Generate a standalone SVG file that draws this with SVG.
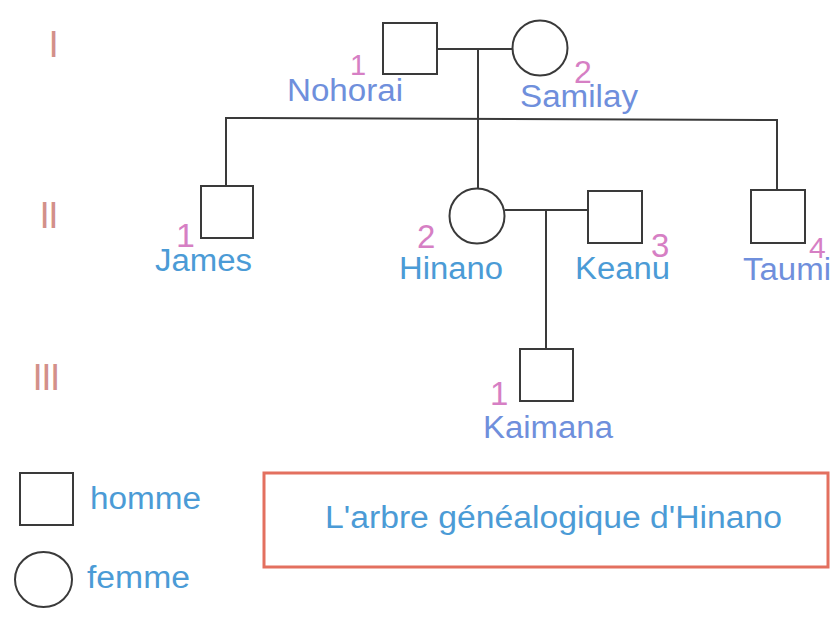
<svg xmlns="http://www.w3.org/2000/svg" width="831" height="618" viewBox="0 0 831 618">
<style>
.sym{fill:#fff;stroke:#3a3a3a;stroke-width:2}
.ln{fill:none;stroke:#3a3a3a;stroke-width:2}
.lbl{font-family:"Liberation Sans",Arial,sans-serif;font-size:31px}
.b1{fill:#4b9bd6}
.b2{fill:#6f8fdc}
.num{font-family:"Liberation Sans",Arial,sans-serif;fill:#d67fc4}
.rom{font-family:"Liberation Sans",Arial,sans-serif;font-size:37px;fill:#d3908a;letter-spacing:-1.5px}
</style>
<rect width="831" height="618" fill="#fff"/>
<g id="generations">
<text class="rom" x="48.5" y="57">I</text>
<text class="rom" x="39.5" y="228">II</text>
<text class="rom" x="32.5" y="390">III</text>
</g>
<g id="connectors">
<line class="ln" x1="437" y1="49" x2="513" y2="49"/>
<line class="ln" x1="478" y1="49" x2="478" y2="189"/>
<polyline class="ln" points="226,186 226,118 777,120 777,190"/>
<line class="ln" x1="505" y1="210" x2="588" y2="210"/>
<line class="ln" x1="546" y1="210" x2="546" y2="349"/>
</g>
<g id="nohorai">
<rect class="sym" x="383" y="23" width="54" height="51"/>
<text class="num" x="350" y="75" font-size="29">1</text>
<text class="lbl b2" x="287" y="101" textLength="116" lengthAdjust="spacingAndGlyphs">Nohorai</text>
</g>
<g id="samilay">
<circle class="sym" cx="540" cy="48" r="27.5"/>
<text class="num" x="574" y="83" font-size="32">2</text>
<text class="lbl b2" x="520" y="107" textLength="118" lengthAdjust="spacingAndGlyphs">Samilay</text>
</g>
<g id="james">
<rect class="sym" x="201" y="186" width="52" height="52"/>
<text class="num" x="176" y="247" font-size="34">1</text>
<text class="lbl b1" x="155" y="271" textLength="97" lengthAdjust="spacingAndGlyphs">James</text>
</g>
<g id="hinano">
<circle class="sym" cx="477" cy="216" r="27.5"/>
<text class="num" x="417" y="248" font-size="33">2</text>
<text class="lbl b1" x="399" y="279" textLength="104" lengthAdjust="spacingAndGlyphs">Hinano</text>
</g>
<g id="keanu">
<rect class="sym" x="588" y="191" width="54" height="52"/>
<text class="num" x="651" y="257" font-size="33">3</text>
<text class="lbl b1" x="575" y="279" textLength="95" lengthAdjust="spacingAndGlyphs">Keanu</text>
</g>
<g id="taumi">
<rect class="sym" x="751" y="190" width="54" height="53"/>
<text class="num" x="809" y="258" font-size="30">4</text>
<text class="lbl b2" x="743" y="280" textLength="88" lengthAdjust="spacingAndGlyphs">Taumi</text>
</g>
<g id="kaimana">
<rect class="sym" x="520" y="349" width="53" height="52"/>
<text class="num" x="490" y="405" font-size="33">1</text>
<text class="lbl b2" x="483" y="438" textLength="130" lengthAdjust="spacingAndGlyphs">Kaimana</text>
</g>
<g id="legend-homme">
<rect class="sym" x="20" y="473" width="53" height="52"/>
<text class="lbl b1" x="90" y="509" textLength="111" lengthAdjust="spacingAndGlyphs">homme</text>
</g>
<g id="legend-femme">
<ellipse class="sym" cx="43.5" cy="579.5" rx="28.5" ry="27.5"/>
<text class="lbl b1" x="87" y="588" textLength="103" lengthAdjust="spacingAndGlyphs">femme</text>
</g>
<g id="title">
<rect x="264" y="473" width="564" height="94" fill="none" stroke="#e3705f" stroke-width="3"/>
<text class="lbl b1" x="325" y="528" textLength="457" lengthAdjust="spacingAndGlyphs">L'arbre généalogique d'Hinano</text>
</g>
</svg>
